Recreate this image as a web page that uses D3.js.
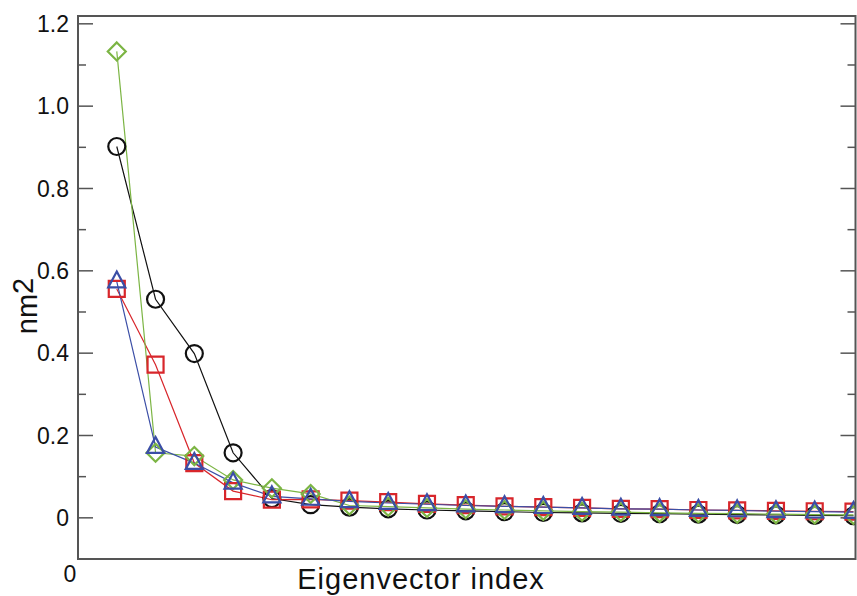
<!DOCTYPE html>
<html>
<head>
<meta charset="utf-8">
<script src="https://cdn.jsdelivr.net/npm/d3@7"></script>
<style>
  body { margin: 0; background: #fff; }
  text { font-family: "Liberation Sans", Arial, sans-serif; fill: #111; }
</style>
</head>
<body>
<div id="chart"></div>
<script>
const indices = d3.range(1, 21);
const blackVals = [0.902, 0.531, 0.399, 0.158, 0.047, 0.032, 0.026, 0.022, 0.019, 0.017, 0.015, 0.013, 0.012, 0.011, 0.010, 0.009, 0.008, 0.007, 0.006, 0.005];
const redVals = [0.556, 0.372, 0.133, 0.065, 0.044, 0.045, 0.042, 0.038, 0.034, 0.031, 0.028, 0.026, 0.024, 0.022, 0.021, 0.019, 0.018, 0.017, 0.016, 0.015];
const greenVals = [1.133, 0.158, 0.150, 0.092, 0.072, 0.058, 0.030, 0.027, 0.024, 0.021, 0.019, 0.017, 0.015, 0.014, 0.012, 0.011, 0.010, 0.009, 0.008, 0.007];
const blueVals = [0.574, 0.172, 0.133, 0.085, 0.052, 0.046, 0.040, 0.036, 0.033, 0.030, 0.028, 0.026, 0.024, 0.022, 0.021, 0.019, 0.018, 0.016, 0.015, 0.014];
const yTicks = [0, 0.2, 0.4, 0.6, 0.8, 1.0, 1.2];
const yMinor = [0.1, 0.3, 0.5, 0.7, 0.9, 1.1];

const width = 857, height = 596;
const pLeft = 78, pRight = 855.5, pTop = 16, pBottom = 559;

const svg = d3.select("#chart").append("svg")
  .attr("width", width).attr("height", height);

const x = d3.scaleLinear().domain([0, 20]).range([pLeft, pRight - 2]);
const y = d3.scaleLinear().domain([-0.1, 1.219]).range([pBottom, pTop]);

// clip
svg.append("clipPath").attr("id", "clip")
  .append("rect").attr("x", pLeft).attr("y", pTop).attr("width", pRight - pLeft).attr("height", pBottom - pTop);

const axisColor = "#555";

// ticks (left and right, inward)
yTicks.forEach(v => {
  svg.append("line").attr("x1", pLeft).attr("x2", pLeft + 15).attr("y1", y(v)).attr("y2", y(v))
    .attr("stroke", axisColor).attr("stroke-width", 1.5);
  svg.append("line").attr("x1", pRight - 15).attr("x2", pRight).attr("y1", y(v)).attr("y2", y(v))
    .attr("stroke", axisColor).attr("stroke-width", 1.5);
  svg.append("text").attr("x", 69).attr("y", y(v)).attr("dy", "0.36em")
    .attr("text-anchor", "end").attr("font-size", 23)
    .text(v === 0 ? "0" : d3.format(".1f")(v));
});
yMinor.forEach(v => {
  svg.append("line").attr("x1", pLeft).attr("x2", pLeft + 8).attr("y1", y(v)).attr("y2", y(v))
    .attr("stroke", axisColor).attr("stroke-width", 1.5);
  svg.append("line").attr("x1", pRight - 8).attr("x2", pRight).attr("y1", y(v)).attr("y2", y(v))
    .attr("stroke", axisColor).attr("stroke-width", 1.5);
});

// x origin label
svg.append("text").attr("x", x(0) - 8).attr("y", 582).attr("text-anchor", "middle")
  .attr("font-size", 23).text("0");

// series
const series = [
  { vals: blackVals, color: "#111", shape: "circle" },
  { vals: redVals, color: "#d8262b", shape: "square" },
  { vals: greenVals, color: "#7cb544", shape: "diamond" },
  { vals: blueVals, color: "#3b4ea6", shape: "triangle" }
];

const g = svg.append("g").attr("clip-path", "url(#clip)");
const line = d3.line().x((d, i) => x(indices[i])).y(d => y(d));

series.forEach(s => {
  g.append("path").datum(s.vals).attr("d", line)
    .attr("fill", "none").attr("stroke", s.color).attr("stroke-width", 1.2);
});

function shapePath(shape, cx, cy) {
  if (shape === "square") {
    const h = 8;
    return `M${cx - h},${cy - h}h${2 * h}v${2 * h}h${-2 * h}Z`;
  }
  if (shape === "diamond") {
    const h = 9;
    return `M${cx},${cy - h}L${cx + h},${cy}L${cx},${cy + h}L${cx - h},${cy}Z`;
  }
  if (shape === "triangle") {
    const h = 9;
    return `M${cx},${cy - h - 1}L${cx + h * 0.95},${cy + h * 0.65}L${cx - h * 0.95},${cy + h * 0.65}Z`;
  }
  return null;
}

series.forEach(s => {
  const sel = g.selectAll(null).data(s.vals).enter();
  if (s.shape === "circle") {
    sel.append("circle")
      .attr("cx", (d, i) => x(indices[i])).attr("cy", d => y(d)).attr("r", 8.5)
      .attr("fill", "none").attr("stroke", s.color).attr("stroke-width", 2.2);
  } else {
    sel.append("path")
      .attr("d", (d, i) => shapePath(s.shape, x(indices[i]), y(d)))
      .attr("fill", "none").attr("stroke", s.color).attr("stroke-width", 2.2);
  }
});

// frame
svg.append("rect").attr("x", pLeft).attr("y", pTop).attr("width", pRight - pLeft).attr("height", pBottom - pTop)
  .attr("fill", "none").attr("stroke", axisColor).attr("stroke-width", 2);

// axis titles
svg.append("text").attr("x", 421).attr("y", 589).attr("text-anchor", "middle")
  .attr("font-size", 29).attr("letter-spacing", 1).text("Eigenvector index");

const yl = svg.append("text").attr("transform", "translate(37,306) rotate(-90)")
  .attr("text-anchor", "middle").attr("font-size", 29);
yl.append("tspan").text("nm");
yl.append("tspan").attr("dy", -4).text("2");
</script>
</body>
</html>
